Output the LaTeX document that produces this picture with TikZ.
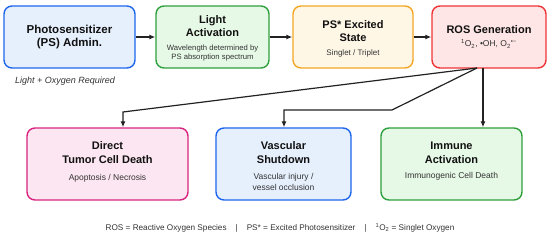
\documentclass[tikz,border=0pt]{standalone}
\usepackage{fontspec}
\setmainfont{Liberation Sans}
\usetikzlibrary{arrows.meta}
\definecolor{textc}{HTML}{111111}
\definecolor{subc}{HTML}{333333}
\definecolor{arrc}{HTML}{222222}
\definecolor{bluedraw}{HTML}{1F66EE}
\definecolor{bluefill}{HTML}{E6F0FD}
\definecolor{greendraw}{HTML}{2EA03C}
\definecolor{greenfill}{HTML}{E6F8E6}
\definecolor{orangedraw}{HTML}{F5A623}
\definecolor{orangefill}{HTML}{FFF7E6}
\definecolor{reddraw}{HTML}{EF3438}
\definecolor{redfill}{HTML}{FFE6E6}
\definecolor{pinkdraw}{HTML}{D8237F}
\definecolor{pinkfill}{HTML}{FCE6F1}
\tikzset{
  box/.style={draw, line width=1.4pt, rounded corners=8pt, inner sep=0pt},
  bluebox/.style={box, draw=bluedraw, fill=bluefill},
  greenbox/.style={box, draw=greendraw, fill=greenfill},
  orangebox/.style={box, draw=orangedraw, fill=orangefill},
  redbox/.style={box, draw=reddraw, fill=redfill},
  pinkbox/.style={box, draw=pinkdraw, fill=pinkfill},
  toprow/.style={minimum height=62pt},
  botrow/.style={minimum height=72pt},
  ttitle/.style={font=\fontsize{11}{13}\selectfont\bfseries, align=center, inner sep=0pt, text=textc},
  btitle/.style={font=\fontsize{11}{14}\selectfont\bfseries, align=center, inner sep=0pt, text=textc},
  tsub/.style={font=\fontsize{7.7}{9}\selectfont, align=center, inner sep=0pt, text=subc},
  bsub/.style={font=\fontsize{8.5}{11}\selectfont, align=center, inner sep=0pt, text=subc},
  arr/.style={draw=arrc, line width=1.2pt, -{Latex[length=6pt,width=5pt]}},
  line/.style={draw=arrc, line width=1.2pt}
}
\begin{document}
\begin{tikzpicture}[x=1pt,y=-1pt]
\useasboundingbox (0,0) rectangle (550,241);
% top row
\node[bluebox, toprow, minimum width=131pt] (ps) at (69.5,37) {};
\node[greenbox, toprow, minimum width=113pt] (light) at (212.5,37) {};
\node[orangebox, toprow, minimum width=120pt] (exc) at (353,37) {};
\node[redbox, toprow, minimum width=114pt] (ros) at (489,37) {};
% bottom row
\node[pinkbox, botrow, minimum width=161pt] (tumor) at (107.5,164) {};
\node[bluebox, botrow, minimum width=135pt] (vasc) at (283.5,164) {};
\node[greenbox, botrow, minimum width=141pt] (imm) at (451.5,164) {};
% texts top
\node[ttitle, font=\fontsize{11.5}{13}\selectfont\bfseries] (pst) at (69.5,37.5) {Photosensitizer\\(PS) Admin.};
\node[ttitle] (lightt) at (212.5,26.5) {Light\\Activation};
\node[tsub] (lights) at (212.5,52.6) {Wavelength determined by\\PS absorption spectrum};
\node[ttitle] (exct) at (353,31.5) {PS* Excited\\State};
\node[tsub, font=\fontsize{8}{9}\selectfont] (excs) at (353,53) {Singlet / Triplet};
\node[ttitle] (rost) at (489,29.5) {ROS Generation};
\node[tsub, font=\fontsize{8.5}{9}\selectfont] (ross) at (489,44) {\textsuperscript{1}O\textsubscript{2}, •OH, O\textsubscript{2}\textsuperscript{•−}};
\node[font=\fontsize{9}{11}\selectfont\itshape, text=subc, inner sep=0pt] (req) at (65,81) {Light + Oxygen Required};
% texts bottom
\node[btitle] (tumort) at (107.5,153) {Direct\\Tumor Cell Death};
\node[bsub] (tumors) at (107.5,178) {Apoptosis / Necrosis};
\node[btitle] (vasct) at (283.5,153) {Vascular\\Shutdown};
\node[bsub] (vascs) at (283.5,181.5) {Vascular injury /\\vessel occlusion};
\node[btitle] (immt) at (451.5,153) {Immune\\Activation};
\node[bsub] (imms) at (451.5,176.5) {Immunogenic Cell Death};
% footer
\node[font=\fontsize{8.2}{10}\selectfont, text=subc, inner sep=0pt] (foot) at (280,228) {ROS = Reactive Oxygen Species\hspace{9pt}|\hspace{9pt}PS* = Excited Photosensitizer\hspace{9pt}|\hspace{9pt}\textsuperscript{1}O\textsubscript{2} = Singlet Oxygen};
% connectors top
\draw[arr] (ps.east) -- (light.west);
\draw[arr] (light.east) -- (exc.west);
\draw[arr] (exc.east) -- (ros.west);
% fan out
\coordinate (fan) at (477,68);
\coordinate (b5) at (123,112);
\coordinate (b6a) at (392,110);
\coordinate (b6b) at (284,110);
\coordinate (b7) at (483,68);
\draw[arr] (fan) -- (b5) -- (b5 |- tumor.north);
\draw[arr] (fan) -- (b6a) -- (b6b) -- (b6b |- vasc.north);
\draw[arr] (b7) -- (b7 |- imm.north);
\end{tikzpicture}
\end{document}
